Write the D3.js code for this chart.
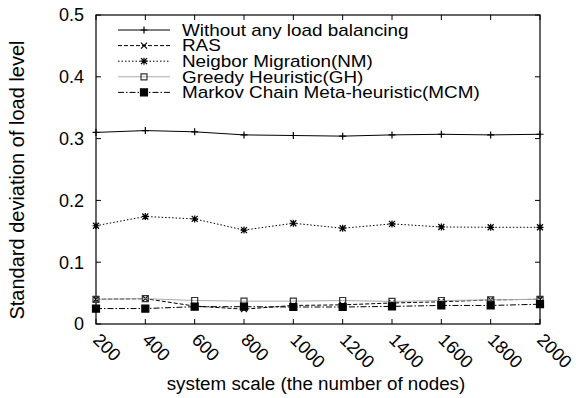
<!DOCTYPE html>
<html>
<head>
<meta charset="utf-8">
<script src="https://cdn.jsdelivr.net/npm/d3@7"></script>
<style>
  body { margin: 0; background: #fff; }
  text { font-family: "Liberation Sans", Arial, sans-serif; fill: #000; }
</style>
</head>
<body>
<div id="container"></div>
<script>
//data
const nodes = [200, 400, 600, 800, 1000, 1200, 1400, 1600, 1800, 2000]
const noBalancing = [0.310, 0.313, 0.311, 0.306, 0.305, 0.304, 0.306, 0.307, 0.306, 0.307]
const ras = [0.040, 0.041, 0.029, 0.024, 0.030, 0.031, 0.034, 0.036, 0.039, 0.040]
const neighborMigration = [0.159, 0.174, 0.170, 0.152, 0.163, 0.155, 0.162, 0.157, 0.1565, 0.1565]
const greedy = [0.040, 0.041, 0.038, 0.037, 0.037, 0.038, 0.0365, 0.038, 0.039, 0.040]
const markov = [0.025, 0.025, 0.028, 0.028, 0.0275, 0.0275, 0.0285, 0.030, 0.030, 0.032]
const yTicks = [0, 0.1, 0.2, 0.3, 0.4, 0.5]
const seriesNames = ["Without any load balancing", "RAS", "Neigbor Migration(NM)",
    "Greedy Heuristic(GH)", "Markov Chain Meta-heuristic(MCM)"]

const width = 576
const height = 398
const margin = {top: 15, right: 36, bottom: 74, left: 96}

let svg = d3.select("#container")
    .append("svg")
    .attr("width", width)
    .attr("height", height)

let x = d3.scaleLinear()
    .domain([200, 2000])
    .range([margin.left, width - margin.right])

let y = d3.scaleLinear()
    .domain([0, 0.5])
    .range([height - margin.bottom, margin.top])

//series styles: dash pattern, colour, marker
const series = [
    {name: seriesNames[0], values: noBalancing, dash: null, color: "#000", marker: "plus"},
    {name: seriesNames[1], values: ras, dash: "4,2", color: "#000", marker: "cross"},
    {name: seriesNames[2], values: neighborMigration, dash: "1.5,2", color: "#000", marker: "star"},
    {name: seriesNames[3], values: greedy, dash: null, color: "#aaa", marker: "square"},
    {name: seriesNames[4], values: markov, dash: "6,2,1.5,2", color: "#000", marker: "filled"}
]

//marker shapes as path strings centered on 0,0
function markerPath(type) {
    const r = 3.5
    if (type == "plus") return `M${-r},0H${r}M0,${-r}V${r}`
    if (type == "cross") return `M${-3},${-3}L3,3M${-3},3L3,${-3}`
    if (type == "star") return `M${-r},0H${r}M0,${-r}V${r}M-3,-3L3,3M-3,3L3,-3`
    if (type == "square") return "M-3,-3H3V3H-3Z"
    return "M-3.5,-3.5H3.5V3.5H-3.5Z"
}

//frame
svg.append("rect")
    .attr("x", margin.left)
    .attr("y", margin.top)
    .attr("width", x.range()[1] - x.range()[0])
    .attr("height", y.range()[0] - y.range()[1])
    .attr("fill", "none")
    .attr("stroke", "#000")
    .attr("stroke-width", 1.2)

//ticks on all four sides, pointing inward
const tickLen = 5
let ticks = svg.append("g").attr("stroke", "#000").attr("stroke-width", 1)
nodes.forEach(n => {
    ticks.append("line").attr("x1", x(n)).attr("x2", x(n))
        .attr("y1", y(0)).attr("y2", y(0) - tickLen)
    ticks.append("line").attr("x1", x(n)).attr("x2", x(n))
        .attr("y1", y(0.5)).attr("y2", y(0.5) + tickLen)
})
yTicks.forEach(t => {
    ticks.append("line").attr("x1", x(200)).attr("x2", x(200) + tickLen)
        .attr("y1", y(t)).attr("y2", y(t))
    ticks.append("line").attr("x1", x(2000)).attr("x2", x(2000) - tickLen)
        .attr("y1", y(t)).attr("y2", y(t))
})

//y tick labels
svg.append("g")
    .selectAll("text")
    .data(yTicks)
    .enter().append("text")
    .attr("x", margin.left - 12)
    .attr("y", d => y(d))
    .attr("dy", "0.35em")
    .attr("text-anchor", "end")
    .style("font-size", "18px")
    .text(d => d == 0 ? "0" : d3.format(".1f")(d))

//x tick labels, rotated
svg.append("g")
    .selectAll("text")
    .data(nodes)
    .enter().append("text")
    .attr("transform", d => `translate(${x(d) - 4},${y(0) + 17}) rotate(45)`)
    .attr("text-anchor", "start")
    .style("font-size", "18px")
    .text(d => d)

//axis titles
svg.append("text")
    .attr("x", 316)
    .attr("y", 390)
    .attr("text-anchor", "middle")
    .style("font-size", "18.8px")
    .text("system scale (the number of nodes)")

svg.append("text")
    .attr("transform", "translate(24,180) rotate(-90)")
    .attr("text-anchor", "middle")
    .style("font-size", "20px")
    .text("Standard deviation of load level")

//lines
let line = d3.line()
    .x((d, i) => x(nodes[i]))
    .y(d => y(d))

let plot = svg.append("g")
series.forEach(s => {
    plot.append("path")
        .datum(s.values)
        .attr("d", line)
        .attr("fill", "none")
        .attr("stroke", s.color)
        .attr("stroke-width", 1)
        .attr("stroke-dasharray", s.dash)
    plot.selectAll(null)
        .data(s.values)
        .enter().append("path")
        .attr("transform", (d, i) => `translate(${x(nodes[i])},${y(d)})`)
        .attr("d", markerPath(s.marker))
        .attr("fill", s.marker == "filled" ? "#000" : "none")
        .attr("stroke", s.marker == "square" ? "#333" : "#000")
        .attr("stroke-width", 1.2)
})

//legend (text a bit wide, like the original)
let legend = svg.append("g")
series.forEach((s, i) => {
    const ly = 30 + i * 15.6
    legend.append("line")
        .attr("x1", 118).attr("x2", 170)
        .attr("y1", ly).attr("y2", ly)
        .attr("stroke", s.color)
        .attr("stroke-width", 1)
        .attr("stroke-dasharray", s.dash)
    legend.append("path")
        .attr("transform", `translate(144,${ly})`)
        .attr("d", markerPath(s.marker))
        .attr("fill", s.marker == "filled" ? "#000" : "none")
        .attr("stroke", s.marker == "square" ? "#333" : "#000")
        .attr("stroke-width", 1.2)
    legend.append("text")
        .attr("transform", `translate(182,${ly}) scale(1.18,1)`)
        .attr("dy", "0.36em")
        .style("font-size", "16px")
        .text(s.name)
})
</script>
</body>
</html>
